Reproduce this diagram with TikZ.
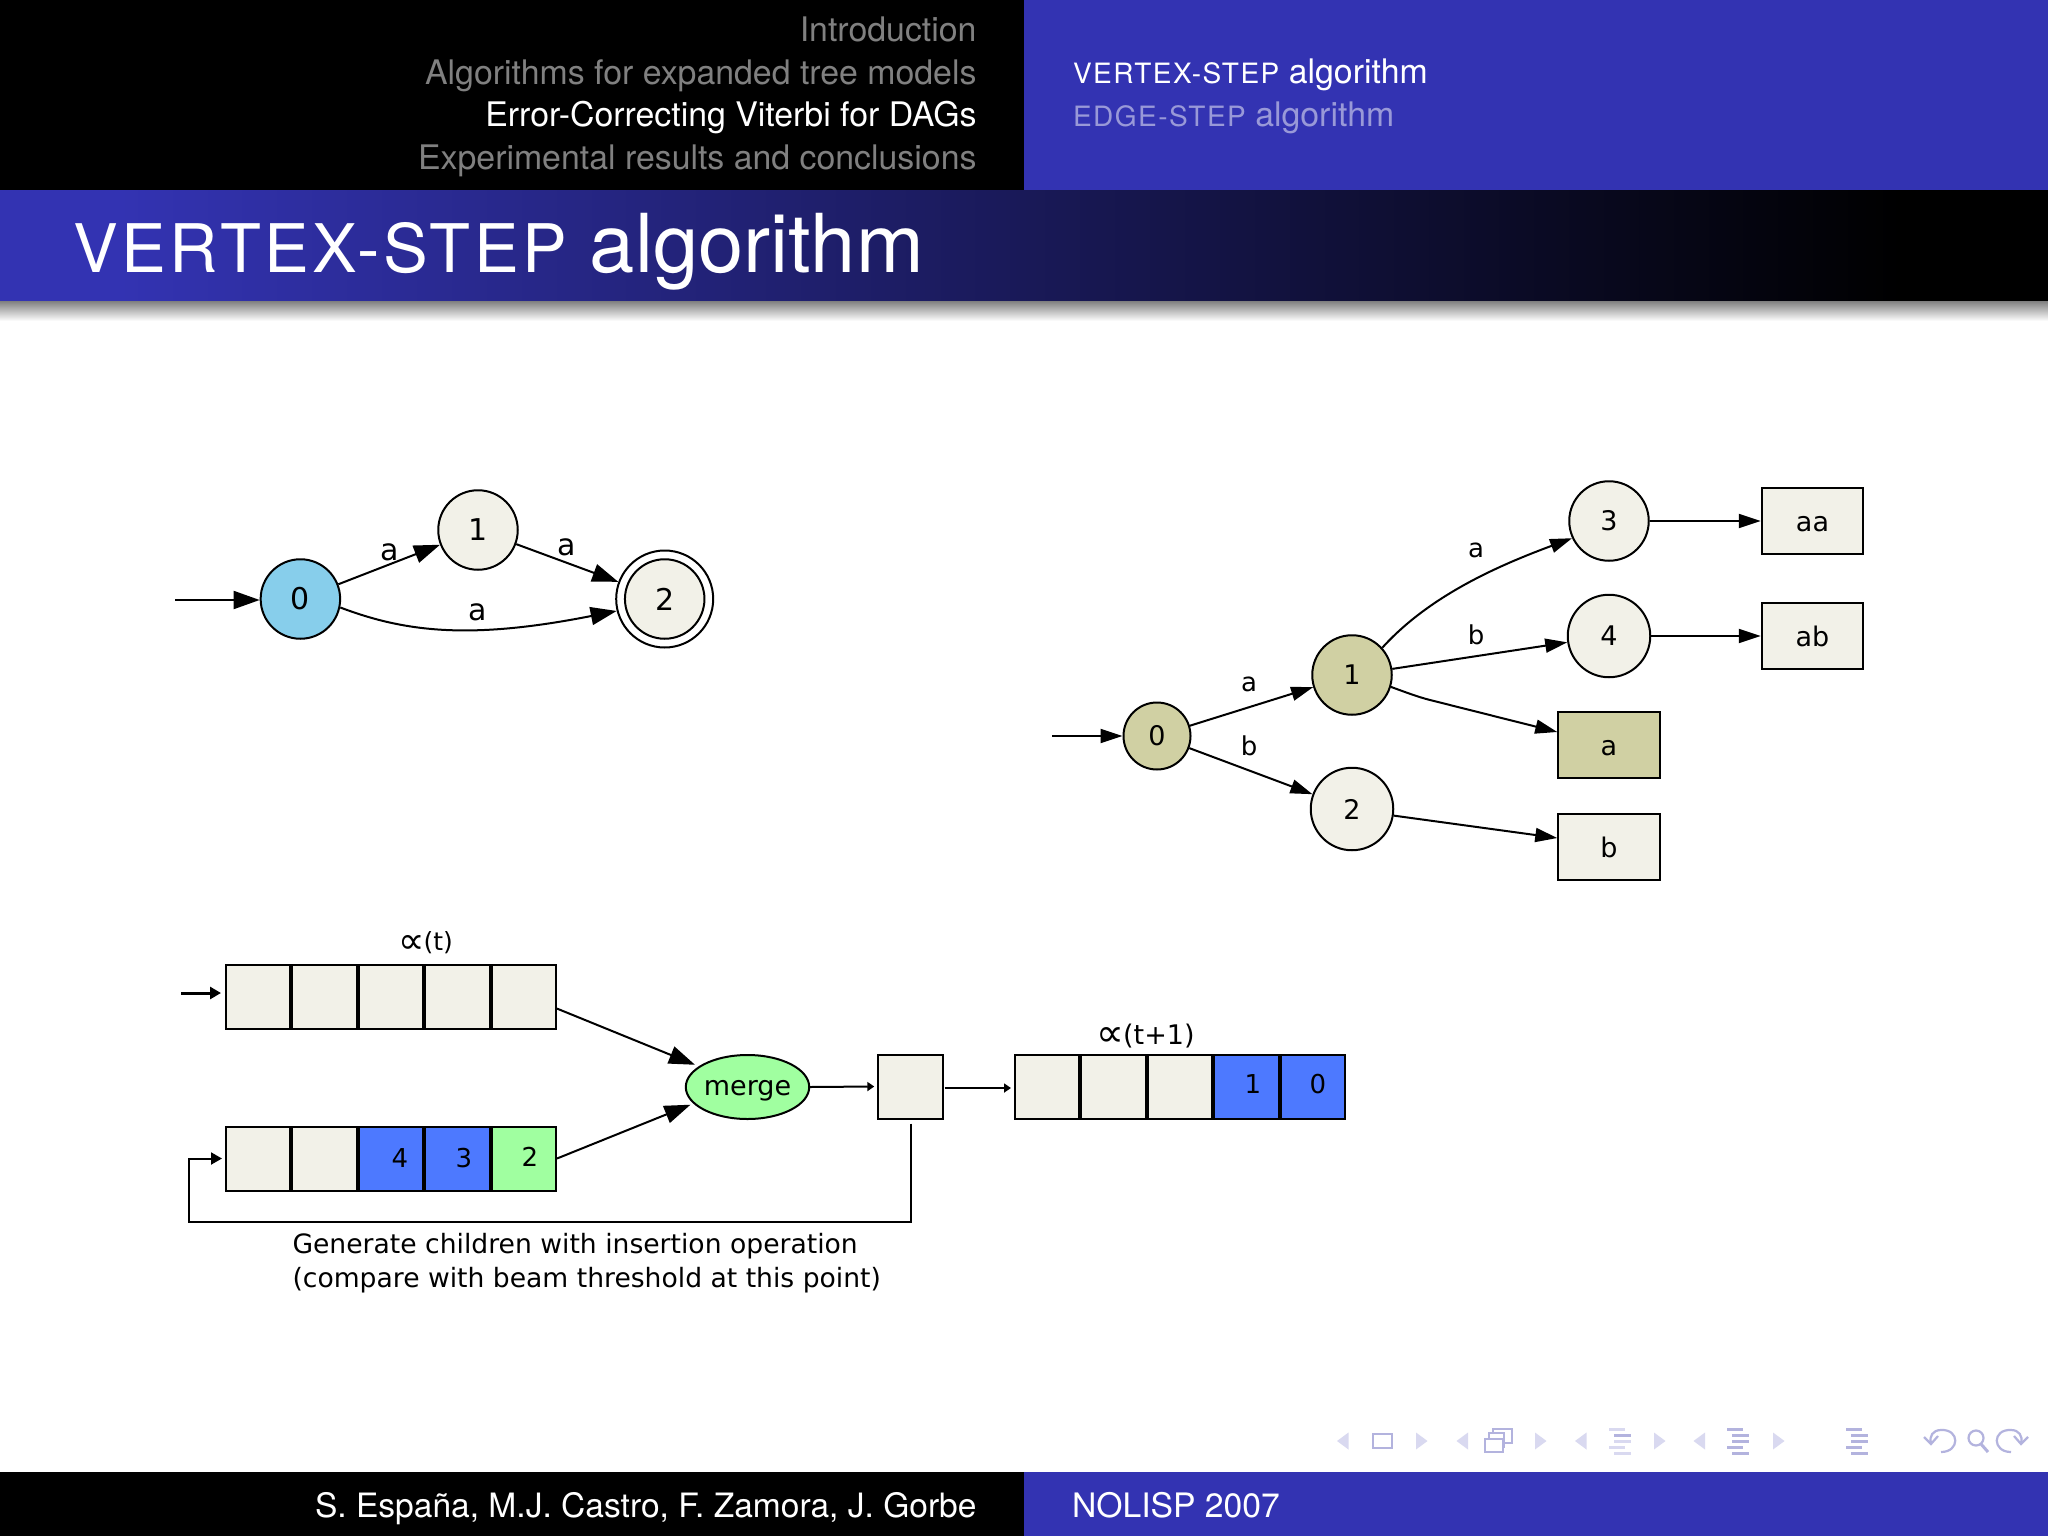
\documentclass[tikz,border=0pt]{standalone}
\usepackage{fontspec}
\setmainfont{TeX Gyre Heros}
\newfontfamily\djv{DejaVu Sans}
\newfontfamily\capsp[LetterSpace=5.3]{TeX Gyre Heros}
\usetikzlibrary{arrows.meta,shapes.geometric}
\definecolor{hblue}{HTML}{3333B2}
\definecolor{ivory}{HTML}{F2F1E8}
\definecolor{olive}{HTML}{D0D0A3}
\definecolor{sky}{HTML}{87CEEB}
\definecolor{mgreen}{HTML}{A0FFA0}
\definecolor{cblue}{HTML}{4D79FF}
\definecolor{navlight}{HTML}{D9D9F0}
\definecolor{navdark}{HTML}{B3B3DE}
\newcommand{\fs}[1]{\fontsize{#1}{#1}\selectfont}
\newcommand{\navbars}[3]{% x, colour high, colour low
  \foreach \yy/\xo/\wd/\cc in {1428/0/16/#2,1434/5/17/#3,1440/5/17/#2,1446/0/16/#2,1452/5/17/#2}
    \fill[\cc] ({#1+\xo},\yy) rectangle ++(\wd,3.4);
}
\newcommand{\navtri}[2]{% left x, direction
  \ifnum#2=0
    \fill[navlight] (#1,1441) -- ++(11.5,-8.5) -- ++(0,17) -- cycle;
  \else
    \fill[navlight] (#1,1432.5) -- ++(11.5,8.5) -- ++(-11.5,8.5) -- cycle;
  \fi
}
\tikzset{
  x=1pt,y=-1pt,
  st/.style={circle,draw=black,fill=ivory,inner sep=0pt,minimum size=79.5pt,font=\djv\fs{30}},
  stb/.style={st,font=\djv\fs{27}},
  boxn/.style={rectangle,draw=black,fill=ivory,inner sep=0pt,minimum width=101.5pt,minimum height=66.5pt,font=\djv\fs{27},text height=20.5pt,text depth=0pt},
  cell/.style={rectangle,draw=black,fill=ivory,inner sep=0pt,minimum width=64.4pt,minimum height=64pt},
  lab/.style={inner sep=0pt,font=\djv\fs{30}},
  labb/.style={inner sep=0pt,font=\djv\fs{26}},
  dig/.style={inner sep=0pt,font=\djv\fs{26}},
  big/.style={-{Triangle[length=26pt,width=18pt]}},
  mid/.style={-{Triangle[length=22pt,width=14pt]}},
  small/.style={-{Triangle[length=11pt,width=12pt]}},
  tiny/.style={-{Triangle[length=7pt,width=9pt]}},
  hd/.style={inner sep=0pt,anchor=base east,font=\fs{33.85}},
  hr/.style={inner sep=0pt,anchor=base west},
}
\begin{document}
\begin{tikzpicture}[line width=2pt]
\useasboundingbox (0,0) rectangle (2048,1536);
\fill[white] (0,0) rectangle (2048,1536);
% header
\fill[black] (0,0) rectangle (1024,190);
\fill[hblue] (1024,0) rectangle (2048,190);
\fill[hblue] (0,190) rectangle (120,301);
\shade[left color=hblue,right color=black,shading angle=90] (120,190) rectangle (1900,301);
\fill[black] (1900,190) rectangle (2048,301);
\shade[top color=black!50,bottom color=white] (0,301) rectangle (2048,321);
\node[hd,text=black!50!white] (h1) at (977.5,41.3) {Introduction};
\node[hd,text=black!50!white] (h2) at (977.5,84.3) {Algorithms for expanded tree models};
\node[hd,text=white] (h3) at (977.5,126.5) {Error-Correcting Viterbi for DAGs};
\node[hd,text=black!50!white] (h4) at (977.5,169.3) {Experimental results and conclusions};
\node[hr,text=white,font=\fs{33.85}] (h5) at (1072,84) {{\capsp\fs{28}VERTEX-STEP} algorithm};
\node[hr,text=hblue!50!white,font=\fs{33.85}] (h6) at (1072,126.5) {{\capsp\fs{28}EDGE-STEP} algorithm};
\node[hr,text=white,font=\fs{81.3}] (title) at (72.5,272) {{\capsp\fs{67}VERTEX-STEP} algorithm};
% footer
\fill[black] (0,1472) rectangle (1024,1536);
\fill[hblue] (1024,1472) rectangle (2048,1536);
\node[hd,text=white,font=\fs{33.55}] (f1) at (977.5,1517) {S. España, M.J. Castro, F. Zamora, J. Gorbe};
\node[hr,text=white,font=\fs{33.7}] (f2) at (1071,1517) {NOLISP 2007};
% navigation symbols
\navtri{1337}{0}\navtri{1416}{1}\navtri{1456.5}{0}\navtri{1535}{1}\navtri{1575}{0}\navtri{1654}{1}\navtri{1693.5}{0}\navtri{1773}{1}
\draw[navdark,line width=2.4pt] (1373,1434) rectangle (1392,1448);
\draw[navdark,line width=2pt,fill=white] (1493,1429) rectangle (1512,1443);
\draw[navdark,line width=2pt,fill=white] (1489,1433) rectangle (1504,1447);
\draw[navdark,line width=2.4pt,fill=white] (1485,1439) rectangle (1503,1452);
\navbars{1609}{navlight}{navdark}
\navbars{1727}{navdark}{navdark}
\navbars{1846}{navdark}{navdark}
\draw[navdark,line width=2.2pt] (1941,1452) .. controls (1960,1452) and (1960,1429) .. (1941,1430) .. controls (1933,1430) and (1929,1436) .. (1931,1443);
\draw[navdark,line width=2.2pt] (1924,1437) -- (1931,1444) -- (1938,1436);
\draw[navdark,line width=2.2pt] (1976,1438) circle (7.5);
\draw[navdark,line width=3pt] (1981,1444) -- (1988,1452);
\draw[navdark,line width=2.2pt] (2011,1452) .. controls (1992,1452) and (1992,1429) .. (2011,1430) .. controls (2019,1430) and (2023,1436) .. (2021,1443);
\draw[navdark,line width=2.2pt] (2028,1437) -- (2021,1444) -- (2014,1436);
% graph 1
\coordinate (s1) at (175,600);
\node[st,fill=sky] (a0) at (300.4,599) {0};
\node[st] (a1) at (478,530) {1};
\node[st,minimum size=97pt,fill=white] (a2o) at (664.7,599) {};
\node[st] (a2) at (664.7,599) {2};
\draw[big] (s1) -- (s1 -| a0.west);
\draw[big] (a0) -- (a1);
\draw[big] (a1) -- (a2o);
\draw[big] (a0.-12) .. controls (405,632) and (470,640) .. (a2o.194);
\node[lab] (la1) at (390,552) {a};
\node[lab] (la2) at (567,547) {a};
\node[lab] (la3) at (478,612) {a};
% graph 2
\coordinate (s2) at (1052,736);
\node[stb,fill=olive,minimum size=67pt] (g0) at (1157,736) {0};
\node[stb,fill=olive] (g1) at (1352,675) {1};
\node[stb,minimum size=82.5pt] (g2) at (1352,809) {2};
\node[stb] (g3) at (1609,521) {3};
\node[stb,minimum size=82.5pt] (g4) at (1609,636) {4};
\node[boxn] (baa) at (1812.5,521) {aa};
\node[boxn] (bab) at (1812.5,636) {ab};
\node[boxn,fill=olive] (ba) at (1609,745) {a};
\node[boxn] (bb) at (1609,847) {b};
\draw[mid] (s2) -- (g0.west);
\draw[mid] (g0) -- (g1);
\draw[mid] (g0) -- (g2);
\draw[mid] (g1.42) .. controls (1430,595) and (1500,565) .. (g3.205);
\draw[mid] (g1) -- (g4);
\draw[mid] (g1.-17) .. controls (1405,692) and (1418,697) .. (1430,700) -- ([yshift=13pt]ba.west);
\draw[mid] (g2.-9.5) -- ([yshift=9pt]bb.west);
\draw[mid] (g3) -- (baa);
\draw[mid] (g4) -- (bab);
\node[labb] (lb1) at (1249,684) {a};
\node[labb] (lb2) at (1249,746) {b};
\node[labb] (lb3) at (1476,550) {a};
\node[labb] (lb4) at (1476,635) {b};
% beams
\foreach \i in {1,...,5} \node[cell] (r1\i) at ({258.2+(\i-1)*66.4},996.5) {};
\foreach \i/\c in {1/ivory,2/ivory,3/cblue,4/cblue,5/mgreen} \node[cell,fill=\c] (r2\i) at ({258.2+(\i-1)*66.4},1158.5) {};
\foreach \i/\c in {1/ivory,2/ivory,3/ivory,4/cblue,5/cblue} \node[cell,fill=\c] (r3\i) at ({1047.2+(\i-1)*66.4},1086.5) {};
\node[cell] (sb) at (910.5,1086.5) {};
\node[ellipse,draw=black,fill=mgreen,inner sep=0pt,minimum width=108pt,minimum height=64pt,font=\djv\fs{27},text height=23.5pt,text depth=6pt] (mrg) at (747.5,1087) {merge};
\node[dig] (d4) at (400,1158) {4};
\node[dig] (d3) at (464,1158) {3};
\node[dig] (d2) at (530,1157) {2};
\node[dig] (d1) at (1253,1084) {1};
\node[dig] (d0) at (1318,1084) {0};
\node[labb,font=\djv\fs{25}] (al1) at (425.5,943) {\raisebox{-2.5pt}{\fs{37}∝}\hspace{-1pt}(t)};
\node[labb,font=\djv\fs{27}] (al2) at (1145.5,1036) {\raisebox{-2.5pt}{\fs{39}∝}\hspace{-1pt}(t+1)};
\coordinate (s3) at (181,993);
\draw[small,line width=3pt] (s3) -- ([xshift=-4pt,yshift=3.5pt]r11.west);
\draw[big,shorten >=4pt] (r15.-20) -- (mrg.157);
\draw[big,shorten >=3pt] (r25.east) -- (mrg.197);
\draw[tiny] (mrg.east) -- ([xshift=-3pt]sb.west);
\draw[tiny] ([xshift=1pt,yshift=-1.5pt]sb.east) -- ([xshift=-3pt,yshift=-1.5pt]r31.west);
\coordinate (fb1) at (910.5,1222);
\coordinate (fb2) at (188.5,1222);
\coordinate (fb3) at (188.5,1158.5);
\draw[small] ([yshift=-4pt]sb.south) -- (fb1) -- (fb2) -- (fb3) -- ([xshift=-3pt]r21.west);
\node[anchor=base west,inner sep=0pt,font=\djv\fs{26.6}] (t1) at (291.5,1253) {Generate children with insertion operation};
\node[anchor=base west,inner sep=0pt,font=\djv\fs{26.6}] (t2) at (291.5,1287) {(compare with beam threshold at this point)};
\end{tikzpicture}
\end{document}
